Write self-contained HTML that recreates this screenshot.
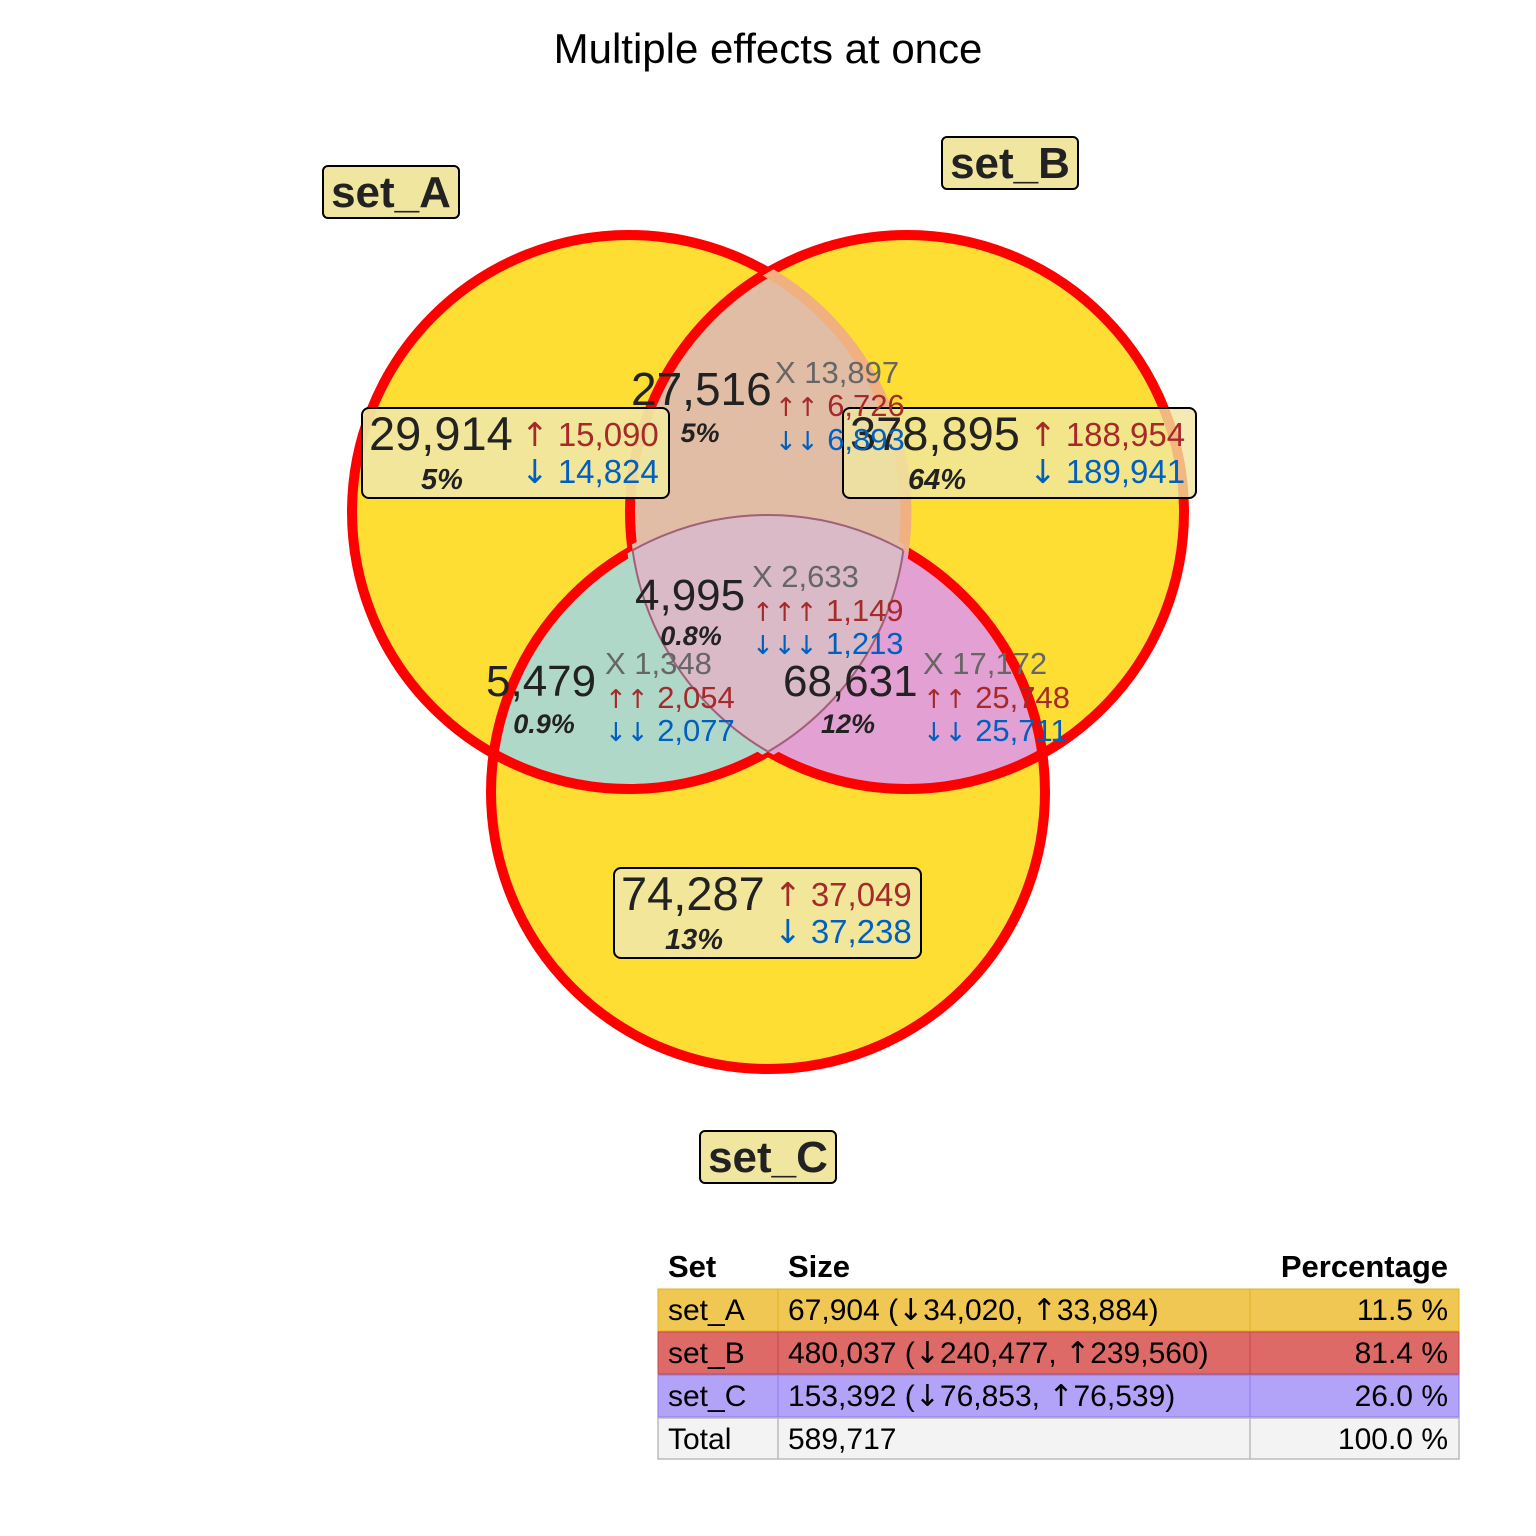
<!DOCTYPE html>
<html><head><meta charset="utf-8"><style>
body{margin:0;background:#fff;}
svg{display:block;font-family:"Liberation Sans",sans-serif;}
.ar{font-family:"DejaVu Sans",sans-serif;}
.as{font-family:"DejaVu Sans",sans-serif;font-size:26px;}
</style></head><body>
<svg width="1536" height="1536" viewBox="0 0 1536 1536">
<defs>
<clipPath id="cA"><circle cx="629" cy="512" r="277"/></clipPath>
<clipPath id="cB"><circle cx="907" cy="512" r="277"/></clipPath>
<clipPath id="cC"><circle cx="768" cy="792" r="277"/></clipPath>
</defs>
<text x="768" y="63" font-size="42" text-anchor="middle">Multiple effects at once</text>
<g>
<circle cx="629" cy="512" r="277" fill="#FEDE33"/>
<circle cx="907" cy="512" r="277" fill="#FEDE33"/>
<circle cx="768" cy="792" r="277" fill="#FEDE33"/>
</g>
<g>
<g clip-path="url(#cA)"><circle cx="907" cy="512" r="277" fill="#E1BDA6"/></g>
<g clip-path="url(#cA)"><circle cx="768" cy="792" r="277" fill="#B0D8C8"/></g>
<g clip-path="url(#cB)"><circle cx="768" cy="792" r="277" fill="#E3A0D2"/></g>
</g>
<g fill="none" stroke="#FF0000" stroke-width="10">
<circle cx="629" cy="512" r="277"/>
<circle cx="907" cy="512" r="277"/>
<circle cx="768" cy="792" r="277"/>
</g>
<g fill="none" stroke-width="11">
<g clip-path="url(#cB)"><circle cx="629" cy="512" r="277" stroke="#F0B080"/></g>
<g clip-path="url(#cA)"><g clip-path="url(#cB)"><circle cx="768" cy="792" r="277" stroke="#E1BDA6"/></g></g>
<g clip-path="url(#cB)"><g clip-path="url(#cC)"><circle cx="629" cy="512" r="277" stroke="#E3A0D2"/></g></g>
<g clip-path="url(#cA)"><g clip-path="url(#cC)"><circle cx="907" cy="512" r="277" stroke="#B0D8C8"/></g></g>
</g>
<g clip-path="url(#cA)"><g clip-path="url(#cB)"><circle cx="768" cy="792" r="277" fill="#D9BAC6" stroke="#A0607A" stroke-width="2"/></g></g>
<g clip-path="url(#cA)"><g clip-path="url(#cC)"><circle cx="907" cy="512" r="277" fill="none" stroke="#A0607A" stroke-width="2"/></g></g>
<g clip-path="url(#cB)"><g clip-path="url(#cC)"><circle cx="629" cy="512" r="277" fill="none" stroke="#A0607A" stroke-width="2"/></g></g>
<g font-weight="bold" font-size="44" fill="#222">
<rect x="323" y="166" width="136" height="52" rx="5" fill="#F0E6A0" stroke="#000" stroke-width="2"/>
<text x="391" y="207" text-anchor="middle">set_A</text>
<rect x="942" y="137" width="136" height="52" rx="5" fill="#F0E6A0" stroke="#000" stroke-width="2"/>
<text x="1010" y="178" text-anchor="middle">set_B</text>
<rect x="700" y="1131" width="136" height="52" rx="5" fill="#F0E6A0" stroke="#000" stroke-width="2"/>
<text x="768" y="1172" text-anchor="middle">set_C</text>
</g>
<g>
<rect x="362" y="408" width="307" height="90" rx="7" fill="#F0E6A0" fill-opacity="0.95" stroke="#000" stroke-width="2"/>
<rect x="843" y="408" width="353" height="90" rx="7" fill="#F0E6A0" fill-opacity="0.8" stroke="#000" stroke-width="2"/>
<rect x="614" y="868" width="307" height="90" rx="7" fill="#F0E6A0" fill-opacity="0.95" stroke="#000" stroke-width="2"/>

<g>
<text x="369" y="450" font-size="47" fill="#222">29,914</text>
<text x="442" y="489" font-size="29" font-weight="bold" font-style="italic" fill="#222" text-anchor="middle">5%</text>
<text x="521" y="446" font-size="33" fill="#A52A2A"><tspan class="ar">↑</tspan> 15,090</text>
<text x="521" y="483" font-size="33" fill="#0060C0"><tspan class="ar">↓</tspan> 14,824</text>
</g>
<g>
<text x="850" y="450" font-size="47" fill="#222">378,895</text>
<text x="937" y="489" font-size="29" font-weight="bold" font-style="italic" fill="#222" text-anchor="middle">64%</text>
<text x="1029" y="446" font-size="33" fill="#A52A2A"><tspan class="ar">↑</tspan> 188,954</text>
<text x="1029" y="483" font-size="33" fill="#0060C0"><tspan class="ar">↓</tspan> 189,941</text>
</g>
<g>
<text x="621" y="910" font-size="47" fill="#222">74,287</text>
<text x="694" y="949" font-size="29" font-weight="bold" font-style="italic" fill="#222" text-anchor="middle">13%</text>
<text x="774" y="906" font-size="33" fill="#A52A2A"><tspan class="ar">↑</tspan> 37,049</text>
<text x="774" y="943" font-size="33" fill="#0060C0"><tspan class="ar">↓</tspan> 37,238</text>
</g>
<g>
<text x="631" y="405" font-size="46" fill="#222">27,516</text>
<text x="700" y="442" font-size="27" font-weight="bold" font-style="italic" fill="#222" text-anchor="middle">5%</text>
<text x="775" y="383" font-size="31" fill="#666">X 13,897</text>
<text x="775" y="416" font-size="31" fill="#A52A2A"><tspan class="as">↑↑</tspan> 6,726</text>
<text x="775" y="450" font-size="31" fill="#0060C0"><tspan class="as">↓↓</tspan> 6,893</text>
</g>
<g>
<text x="635" y="610" font-size="44" fill="#222">4,995</text>
<text x="691" y="645" font-size="27" font-weight="bold" font-style="italic" fill="#222" text-anchor="middle">0.8%</text>
<text x="752" y="587" font-size="31" fill="#666">X 2,633</text>
<text x="752" y="621" font-size="31" fill="#A52A2A"><tspan class="as">↑↑↑</tspan> 1,149</text>
<text x="752" y="654" font-size="31" fill="#0060C0"><tspan class="as">↓↓↓</tspan> 1,213</text>
</g>
<g>
<text x="486" y="696" font-size="44" fill="#222">5,479</text>
<text x="544" y="733" font-size="27" font-weight="bold" font-style="italic" fill="#222" text-anchor="middle">0.9%</text>
<text x="605" y="674" font-size="31" fill="#666">X 1,348</text>
<text x="605" y="708" font-size="31" fill="#A52A2A"><tspan class="as">↑↑</tspan> 2,054</text>
<text x="605" y="741" font-size="31" fill="#0060C0"><tspan class="as">↓↓</tspan> 2,077</text>
</g>
<g>
<text x="783" y="696" font-size="44" fill="#222">68,631</text>
<text x="848" y="733" font-size="27" font-weight="bold" font-style="italic" fill="#222" text-anchor="middle">12%</text>
<text x="923" y="674" font-size="31" fill="#666">X 17,172</text>
<text x="923" y="708" font-size="31" fill="#A52A2A"><tspan class="as">↑↑</tspan> 25,748</text>
<text x="923" y="741" font-size="31" fill="#0060C0"><tspan class="as">↓↓</tspan> 25,711</text>
</g>
</g>
<g font-size="30">
<g font-weight="bold" font-size="31">
<text x="668" y="1277">Set</text>
<text x="788" y="1277">Size</text>
<text x="1448" y="1277" text-anchor="end">Percentage</text>
</g>
<g>
<rect x="658" y="1289" width="801" height="42" fill="#EFC752" stroke="#E0B020" stroke-width="1"/>
<line x1="778" y1="1289" x2="778" y2="1331" stroke="#E0B020"/><line x1="1250" y1="1289" x2="1250" y2="1331" stroke="#E0B020"/>
<text x="668" y="1320">set_A</text><text x="788" y="1320">67,904 (<tspan class="ar">↓</tspan>34,020, <tspan class="ar">↑</tspan>33,884)</text><text x="1448" y="1320" text-anchor="end">11.5 %</text>
</g>
<g>
<rect x="658" y="1332" width="801" height="42" fill="#DE6A68" stroke="#C84848" stroke-width="1"/>
<line x1="778" y1="1332" x2="778" y2="1374" stroke="#C84848"/><line x1="1250" y1="1332" x2="1250" y2="1374" stroke="#C84848"/>
<text x="668" y="1363">set_B</text><text x="788" y="1363">480,037 (<tspan class="ar">↓</tspan>240,477, <tspan class="ar">↑</tspan>239,560)</text><text x="1448" y="1363" text-anchor="end">81.4 %</text>
</g>
<g>
<rect x="658" y="1375" width="801" height="42" fill="#B3A3F8" stroke="#8C78E8" stroke-width="1"/>
<line x1="778" y1="1375" x2="778" y2="1417" stroke="#8C78E8"/><line x1="1250" y1="1375" x2="1250" y2="1417" stroke="#8C78E8"/>
<text x="668" y="1406">set_C</text><text x="788" y="1406">153,392 (<tspan class="ar">↓</tspan>76,853, <tspan class="ar">↑</tspan>76,539)</text><text x="1448" y="1406" text-anchor="end">26.0 %</text>
</g>
<g>
<rect x="658" y="1418" width="801" height="41" fill="#F3F3F3" stroke="#BBB" stroke-width="1.5"/>
<line x1="778" y1="1418" x2="778" y2="1459" stroke="#BBB" stroke-width="1.5"/><line x1="1250" y1="1418" x2="1250" y2="1459" stroke="#BBB" stroke-width="1.5"/>
<text x="668" y="1449">Total</text><text x="788" y="1449">589,717</text><text x="1448" y="1449" text-anchor="end">100.0 %</text>
</g>
</g>
</svg>
</body></html>
